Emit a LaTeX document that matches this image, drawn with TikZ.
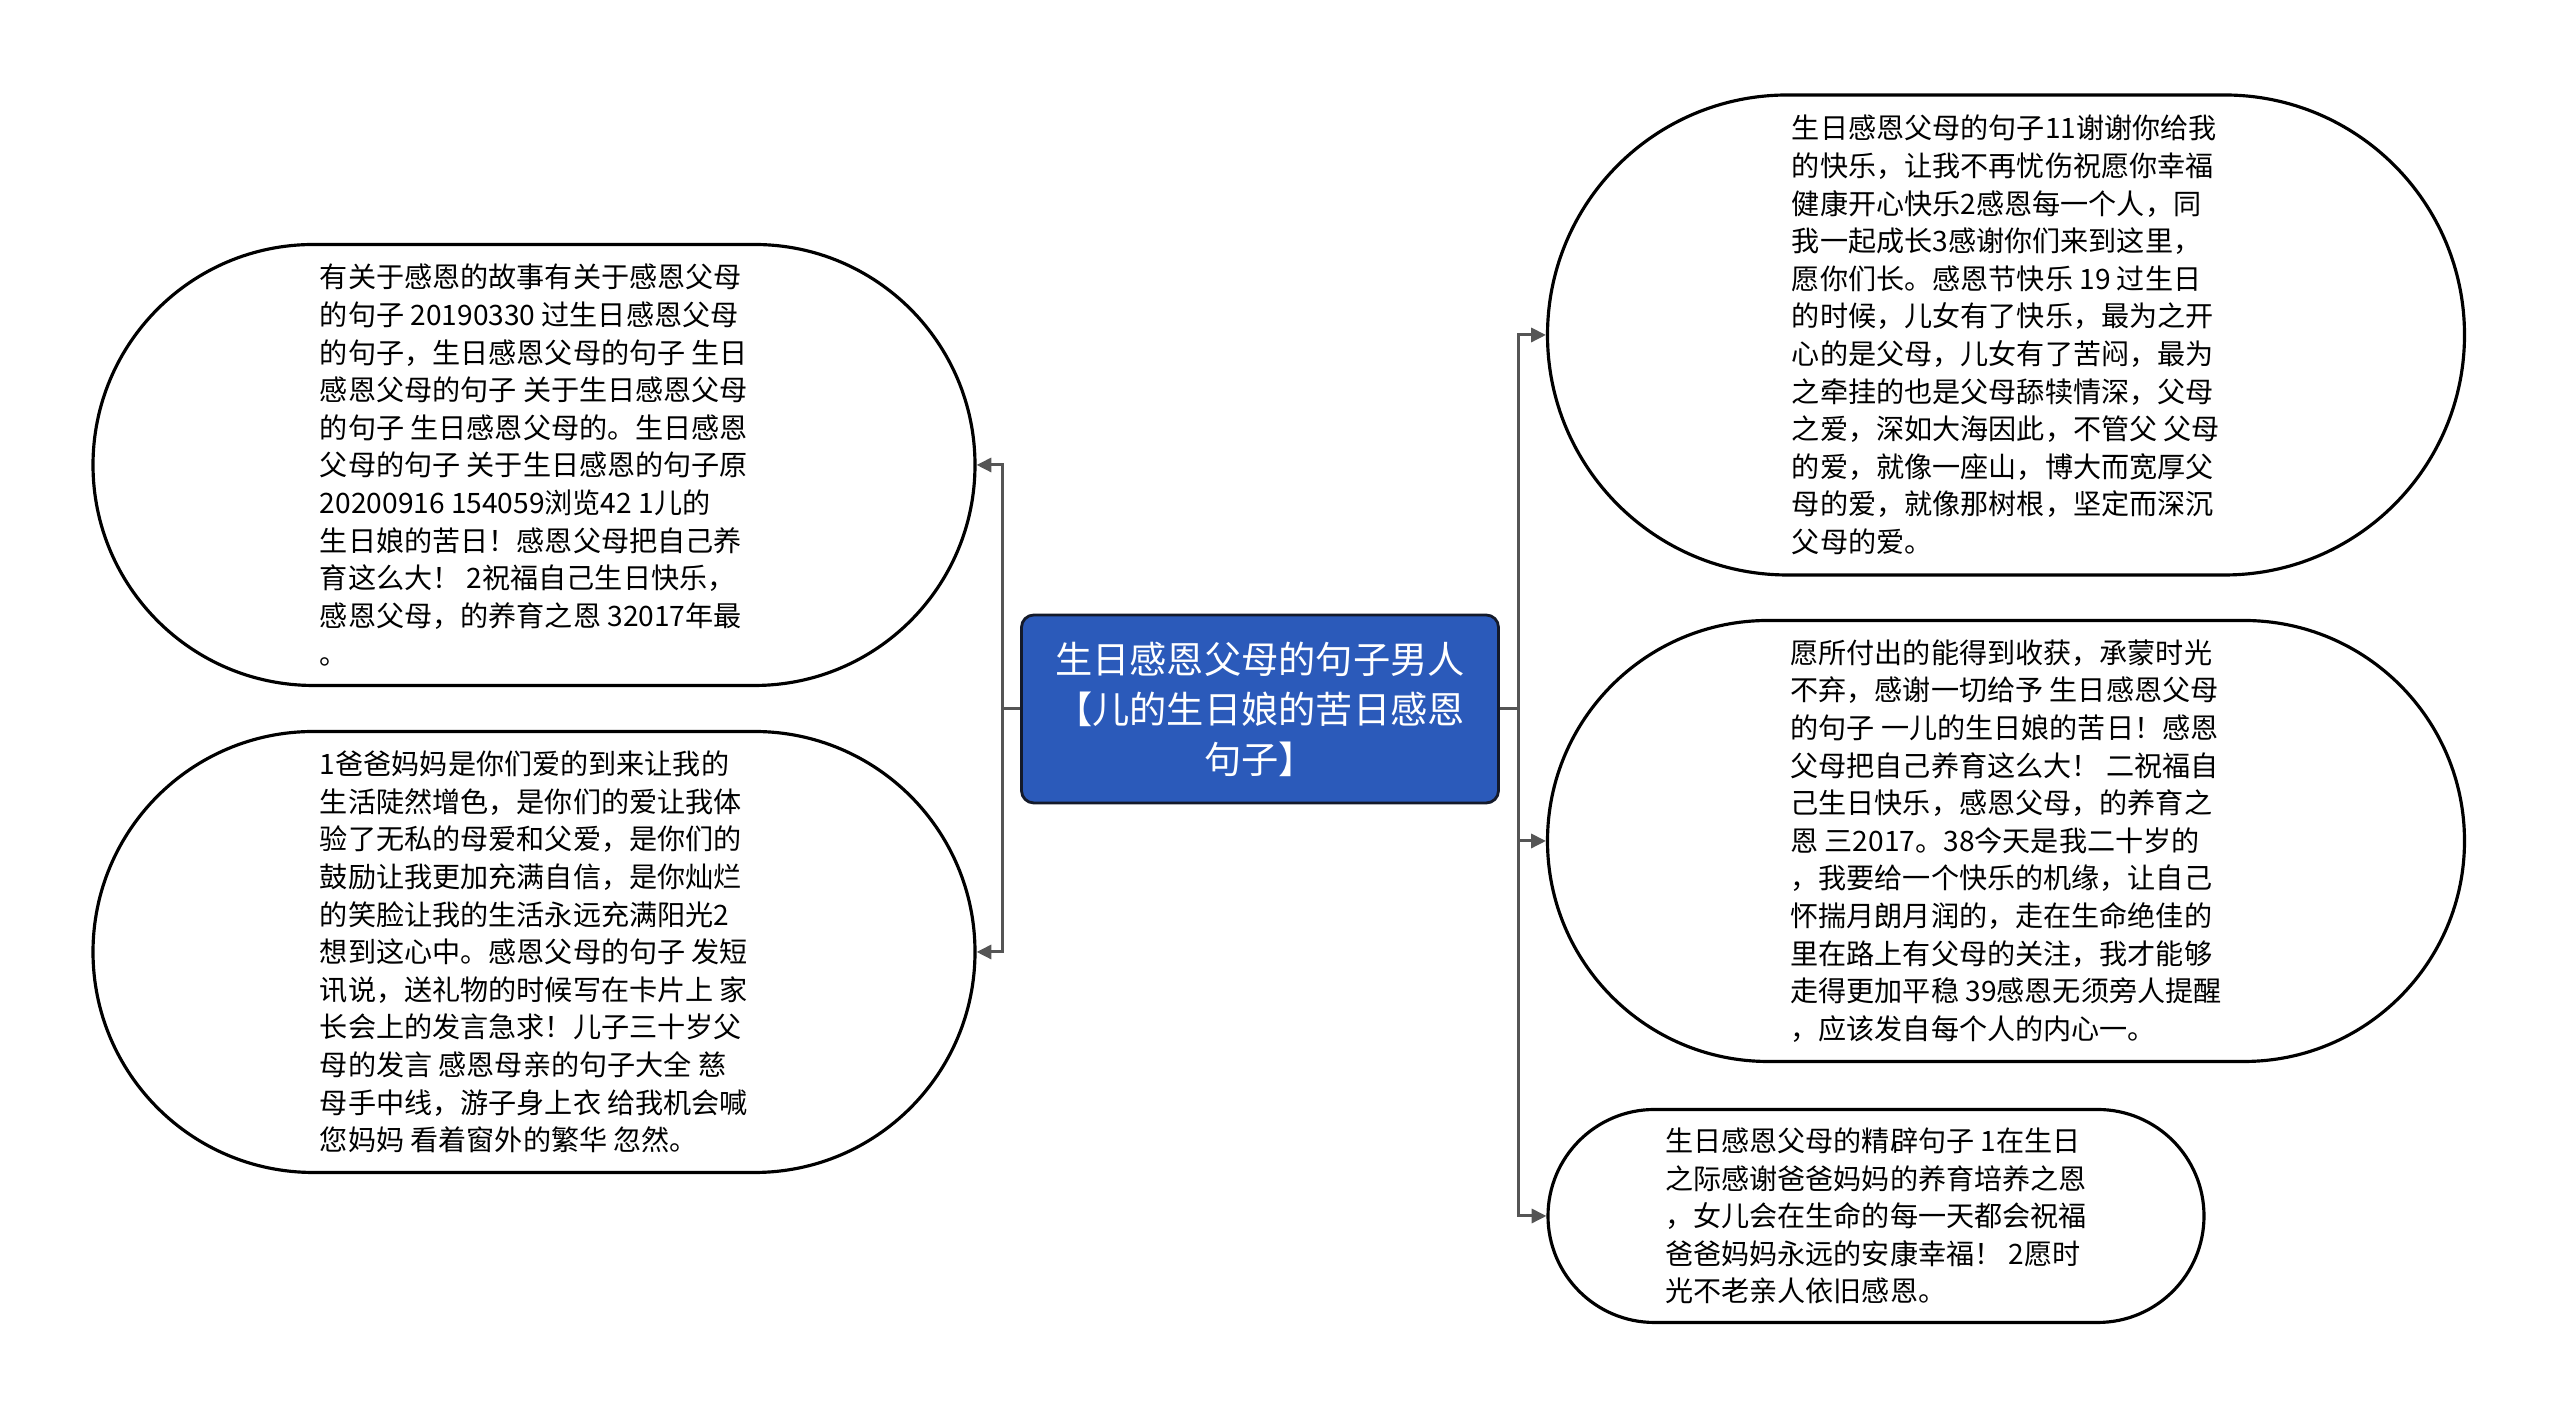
\documentclass[tikz,border=0pt]{standalone}
\usepackage{fontspec}
\setmainfont{Noto Sans CJK SC}
\usetikzlibrary{arrows.meta,shapes.misc,calc}
\definecolor{rootblue}{HTML}{2B5ABA}
\definecolor{rootedge}{HTML}{141A2A}
\definecolor{connline}{HTML}{555555}
\tikzset{
  root/.style={
    draw=rootedge, fill=rootblue, line width=0.8pt, rounded corners=3.5pt,
    minimum width=4.77cm, minimum height=1.88cm,
    align=center, text=white, font=\fontsize{10.6pt}{14.2pt}\selectfont
  },
  bubble/.style={
    rounded rectangle, draw=black, line width=0.9pt, fill=white,
    inner sep=0pt, align=left, font=\fontsize{8pt}{10.7pt}\selectfont
  },
  conn/.style={-{Triangle[length=4.2pt,width=4pt]}, draw=connline, line width=0.85pt}
}

\begin{document}
\begin{tikzpicture}
  \fill[white] (0,0) rectangle (25.6,14.18);
  \useasboundingbox (0,0) rectangle (25.6,14.18);

  % centre topic
  \node[root] (root) at (12.60,7.09) {生日感恩父母的句子男人\\【儿的生日娘的苦日感恩\\句子】};

  % left branches
  \node[bubble, minimum width=8.82cm, minimum height=4.41cm] (l1) at (5.34,9.53) {有关于感恩的故事有关于感恩父母\\的句子 20190330 过生日感恩父母\\的句子，生日感恩父母的句子 生日\\感恩父母的句子 关于生日感恩父母\\的句子 生日感恩父母的。生日感恩\\父母的句子 关于生日感恩的句子原\\20200916 154059浏览42 1儿的\\生日娘的苦日！感恩父母把自己养\\育这么大！ 2祝福自己生日快乐，\\感恩父母，的养育之恩 32017年最\\。};
  \node[bubble, minimum width=8.82cm, minimum height=4.41cm] (l2) at (5.34,4.66) {1爸爸妈妈是你们爱的到来让我的\\生活陡然增色，是你们的爱让我体\\验了无私的母爱和父爱，是你们的\\鼓励让我更加充满自信，是你灿烂\\的笑脸让我的生活永远充满阳光2\\想到这心中。感恩父母的句子 发短\\讯说，送礼物的时候写在卡片上 家\\长会上的发言急求！儿子三十岁父\\母的发言 感恩母亲的句子大全 慈\\母手中线，游子身上衣 给我机会喊\\您妈妈 看着窗外的繁华 忽然。};

  % right branches
  \node[bubble, minimum width=9.17cm, minimum height=4.80cm] (r1) at (20.06,10.83) {生日感恩父母的句子11谢谢你给我\\的快乐，让我不再忧伤祝愿你幸福\\健康开心快乐2感恩每一个人，同\\我一起成长3感谢你们来到这里，\\愿你们长。感恩节快乐 19 过生日\\的时候，儿女有了快乐，最为之开\\心的是父母，儿女有了苦闷，最为\\之牵挂的也是父母舔犊情深，父母\\之爱，深如大海因此，不管父 父母\\的爱，就像一座山，博大而宽厚父\\母的爱，就像那树根，坚定而深沉\\父母的爱。};
  \node[bubble, minimum width=9.17cm, minimum height=4.41cm] (r2) at (20.06,5.77) {愿所付出的能得到收获，承蒙时光\\不弃，感谢一切给予 生日感恩父母\\的句子 一儿的生日娘的苦日！感恩\\父母把自己养育这么大！ 二祝福自\\己生日快乐，感恩父母，的养育之\\恩 三2017。38今天是我二十岁的\\，我要给一个快乐的机缘，让自己\\怀揣月朗月润的，走在生命绝佳的\\里在路上有父母的关注，我才能够\\走得更加平稳 39感恩无须旁人提醒\\，应该发自每个人的内心一。};
  \node[bubble, minimum width=6.56cm, minimum height=2.13cm] (r3) at (18.76,2.02) {生日感恩父母的精辟句子 1在生日\\之际感谢爸爸妈妈的养育培养之恩\\，女儿会在生命的每一天都会祝福\\爸爸妈妈永远的安康幸福！ 2愿时\\光不老亲人依旧感恩。};

  % connectors
  \coordinate (ljoint) at ($(root.west)+(-0.18,0)$);
  \coordinate (rjoint) at ($(root.east)+(0.19,0)$);
  \draw[conn] (root.west) -- (ljoint) |- (l1.east);
  \draw[conn] (root.west) -- (ljoint) |- (l2.east);
  \draw[conn] (root.east) -- (rjoint) |- (r1.west);
  \draw[conn] (root.east) -- (rjoint) |- (r2.west);
  \draw[conn] (root.east) -- (rjoint) |- (r3.west);
\end{tikzpicture}
\end{document}
